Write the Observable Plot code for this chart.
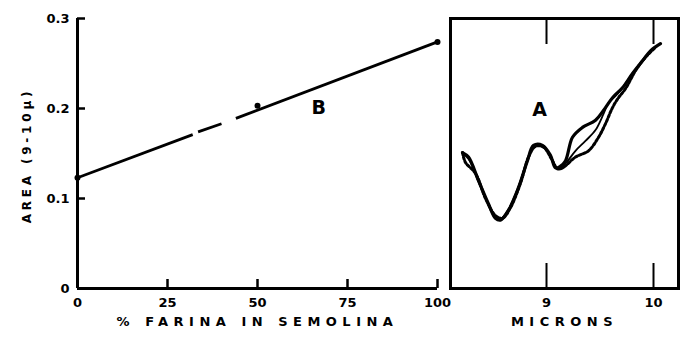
<!DOCTYPE html>
<html>
<head>
<meta charset="utf-8">
<script src="https://cdn.jsdelivr.net/npm/d3@7"></script>
<script src="https://cdn.jsdelivr.net/npm/@observablehq/plot@0.6"></script>
<style>
  html, body { margin: 0; padding: 0; background: #fff; }
  #wrap { position: relative; width: 681px; height: 339px; overflow: hidden; }
  #wrap > svg, #wrap > figure { position: absolute; top: 0; margin: 0; overflow: visible; }
  text[aria-label="axis-title"] { letter-spacing: 5.5px; }
  text[aria-label="y-title"] { letter-spacing: 3.8px; }
</style>
</head>
<body>
<div id="wrap"></div>
<script>
// ---- Panel B: area vs % farina ----
const farinaPct = [0, 50, 100];
const areaB = [0.123, 0.203, 0.274];
// drawn line pieces (gaps as in the original)
const segFromPct = [0, 33.5, 44];
const segToPct = [32, 40, 100];
const segFromArea = [0.123, 0.174, 0.189];
const segToArea = [0.171, 0.183, 0.274];
const farinaTicks = [0, 25, 50, 75, 100];
const areaTicks = [0, 0.1, 0.2, 0.3];
const areaTickLabels = ["0", "0.1", "0.2", "0.3"];

// ---- Panel A: spectra vs microns ----
const micronsSolid = [8.215, 8.271, 8.364, 8.458, 8.523, 8.570, 8.645, 8.738, 8.822, 8.879, 8.963, 9.037, 9.084, 9.131, 9.178, 9.243, 9.336, 9.458, 9.551, 9.617, 9.710, 9.804, 9.897, 9.972, 10.065];
const specSolid = [0.151, 0.146, 0.120, 0.094, 0.078, 0.076, 0.087, 0.112, 0.142, 0.159, 0.159, 0.148, 0.134, 0.136, 0.142, 0.168, 0.179, 0.187, 0.201, 0.212, 0.223, 0.239, 0.253, 0.264, 0.272];
const micronsMid = [8.215, 8.271, 8.364, 8.458, 8.523, 8.570, 8.645, 8.738, 8.822, 8.879, 8.963, 9.037, 9.084, 9.131, 9.178, 9.271, 9.364, 9.458, 9.533, 9.579, 9.645, 9.710, 9.804, 9.897, 9.972];
const specMid = [0.150, 0.144, 0.119, 0.093, 0.078, 0.077, 0.088, 0.113, 0.143, 0.158, 0.158, 0.147, 0.135, 0.135, 0.139, 0.153, 0.164, 0.176, 0.194, 0.206, 0.214, 0.223, 0.239, 0.253, 0.262];
const micronsDot = [8.215, 8.243, 8.336, 8.430, 8.523, 8.589, 8.664, 8.757, 8.832, 8.897, 8.972, 9.047, 9.103, 9.150, 9.271, 9.393, 9.486, 9.551, 9.617, 9.673, 9.738, 9.832, 9.925, 10.019];
const specDot = [0.151, 0.140, 0.128, 0.100, 0.081, 0.078, 0.090, 0.117, 0.146, 0.158, 0.157, 0.144, 0.133, 0.134, 0.146, 0.153, 0.168, 0.183, 0.201, 0.212, 0.222, 0.242, 0.257, 0.268];
const micronTicks = [9, 10];

const FONT = {fontFamily: "'DejaVu Sans', sans-serif", fontWeight: "bold", fontSize: "13px", color: "#000", background: "transparent", overflow: "visible"};

const segs = segFromPct.map((x1, i) => ({x1, x2: segToPct[i], y1: segFromArea[i], y2: segToArea[i]}));
const ptsB = farinaPct.map((x, i) => ({x, y: areaB[i]}));

const left = Plot.plot({
  width: 445, height: 339,
  marginLeft: 77, marginRight: 8, marginTop: 18, marginBottom: 51,
  style: FONT,
  x: {domain: [0, 100], label: null},
  y: {domain: [0, 0.3], label: null},
  marks: [
    Plot.ruleY([0], {strokeWidth: 3}),
    Plot.ruleX([0], {strokeWidth: 3}),
    // inward tick marks
    Plot.axisX(farinaTicks, {anchor: "bottom", tickSize: 9, dy: -9, tickFormat: () => "", strokeWidth: 2.5, label: null}),
    Plot.axisY(areaTicks, {anchor: "left", tickSize: 8, dx: 8, tickFormat: () => "", strokeWidth: 2.5, label: null}),
    // tick labels
    Plot.axisX(farinaTicks, {anchor: "bottom", tickSize: 0, tickPadding: 9, tickFormat: d => String(d), label: null}),
    Plot.axisY(areaTicks, {anchor: "left", tickSize: 0, tickPadding: 8, tickFormat: (d, i) => areaTickLabels[i], label: null}),
    Plot.link(segs, {x1: "x1", y1: "y1", x2: "x2", y2: "y2", strokeWidth: 2.8}),
    Plot.dot(ptsB, {x: "x", y: "y", r: 3, fill: "black"}),
    Plot.text(["B"], {x: 67, y: 0.201, text: d => d, fontSize: 19, fontWeight: "bold"}),
    Plot.text(["% FARINA IN SEMOLINA"], {frameAnchor: "bottom", textAnchor: "middle", dy: 37, text: d => d, fontSize: 13, ariaLabel: () => "axis-title"}),
    Plot.text(["AREA (9-10\u03bc)"], {frameAnchor: "left", textAnchor: "middle", dx: -50, dy: 2, rotate: -90, text: d => d, fontSize: 12, ariaLabel: () => "y-title"})
  ]
});

const curves = [
  ...micronsSolid.map((x, i) => ({x, y: specSolid[i], s: "solid"})),
  ...micronsMid.map((x, i) => ({x, y: specMid[i], s: "mid"})),
  ...micronsDot.map((x, i) => ({x, y: specDot[i], s: "dot"}))
];

const right = Plot.plot({
  width: 241, height: 339,
  marginLeft: 10, marginRight: 3, marginTop: 18, marginBottom: 51,
  style: FONT,
  x: {domain: [8.1028, 10.2336], label: null},
  y: {domain: [0, 0.3], label: null, axis: null},
  marks: [
    Plot.axisX(micronTicks, {anchor: "bottom", tickSize: 25, dy: -25, tickFormat: () => "", strokeWidth: 2, label: null}),
    Plot.axisX(micronTicks, {anchor: "top", tickSize: 25, dy: 25, tickFormat: () => "", strokeWidth: 2, label: null}),
    Plot.axisX(micronTicks, {anchor: "bottom", tickSize: 0, tickPadding: 9, tickFormat: d => String(d), label: null}),
    Plot.frame({strokeWidth: 3}),
    Plot.line(curves.filter(d => d.s === "dot"), {x: "x", y: "y", strokeWidth: 3, strokeDasharray: "2.5,2", curve: "catmull-rom"}),
    Plot.line(curves.filter(d => d.s === "mid"), {x: "x", y: "y", strokeWidth: 1.8, curve: "catmull-rom"}),
    Plot.line(curves.filter(d => d.s === "solid"), {x: "x", y: "y", strokeWidth: 3.2, curve: "catmull-rom"}),
    Plot.text(["A"], {x: 8.935, y: 0.198, text: d => d, fontSize: 19, fontWeight: "bold"}),
    Plot.text(["MICRONS"], {frameAnchor: "bottom", textAnchor: "middle", dy: 37, text: d => d, fontSize: 13, ariaLabel: () => "axis-title"})
  ]
});

const wrap = document.getElementById("wrap");
left.style.left = "0px";
right.style.left = "440px";
wrap.appendChild(left);
wrap.appendChild(right);
</script>
</body>
</html>
